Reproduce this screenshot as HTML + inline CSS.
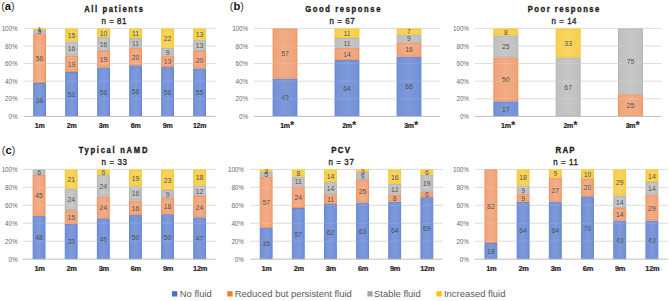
<!DOCTYPE html>
<html><head><meta charset="utf-8"><style>html,body{margin:0;padding:0;background:#fff;width:669px;height:301px;overflow:hidden;position:relative}</style></head>
<body>
<svg width="669" height="301" viewBox="0 0 669 301" style="position:absolute;left:0;top:0">
<defs>
<linearGradient id="gb" x1="0" x2="1" y1="0" y2="0"><stop offset="0" stop-color="#7290D7"/><stop offset="0.5" stop-color="#7D99DA"/><stop offset="1" stop-color="#7290D7"/></linearGradient>
<linearGradient id="go" x1="0" x2="1" y1="0" y2="0"><stop offset="0" stop-color="#F0A279"/><stop offset="0.5" stop-color="#F2AD86"/><stop offset="1" stop-color="#F0A279"/></linearGradient>
<linearGradient id="gg" x1="0" x2="1" y1="0" y2="0"><stop offset="0" stop-color="#BFBFBF"/><stop offset="0.5" stop-color="#C7C7C7"/><stop offset="1" stop-color="#BFBFBF"/></linearGradient>
<linearGradient id="gy" x1="0" x2="1" y1="0" y2="0"><stop offset="0" stop-color="#F7CF4E"/><stop offset="0.5" stop-color="#F8D560"/><stop offset="1" stop-color="#F7CF4E"/></linearGradient>
</defs>
<line x1="23.6" x2="215.6" y1="98.80" y2="98.80" stroke="#D9D9D9" stroke-width="1"/>
<line x1="23.6" x2="215.6" y1="81.20" y2="81.20" stroke="#D9D9D9" stroke-width="1"/>
<line x1="23.6" x2="215.6" y1="63.60" y2="63.60" stroke="#D9D9D9" stroke-width="1"/>
<line x1="23.6" x2="215.6" y1="46.00" y2="46.00" stroke="#D9D9D9" stroke-width="1"/>
<line x1="23.6" x2="215.6" y1="28.40" y2="28.40" stroke="#D9D9D9" stroke-width="1"/>
<g transform="translate(17.40,118.90) scale(0.9,1)"><text x="0" y="0" text-anchor="end" font-family='"Liberation Sans", sans-serif' font-size="7" letter-spacing="-0.1" fill="#6A6A6A">0%</text></g>
<g transform="translate(17.40,101.30) scale(0.9,1)"><text x="0" y="0" text-anchor="end" font-family='"Liberation Sans", sans-serif' font-size="7" letter-spacing="-0.1" fill="#6A6A6A">20%</text></g>
<g transform="translate(17.40,83.70) scale(0.9,1)"><text x="0" y="0" text-anchor="end" font-family='"Liberation Sans", sans-serif' font-size="7" letter-spacing="-0.1" fill="#6A6A6A">40%</text></g>
<g transform="translate(17.40,66.10) scale(0.9,1)"><text x="0" y="0" text-anchor="end" font-family='"Liberation Sans", sans-serif' font-size="7" letter-spacing="-0.1" fill="#6A6A6A">60%</text></g>
<g transform="translate(17.40,48.50) scale(0.9,1)"><text x="0" y="0" text-anchor="end" font-family='"Liberation Sans", sans-serif' font-size="7" letter-spacing="-0.1" fill="#6A6A6A">80%</text></g>
<g transform="translate(17.40,30.90) scale(0.9,1)"><text x="0" y="0" text-anchor="end" font-family='"Liberation Sans", sans-serif' font-size="7" letter-spacing="-0.1" fill="#6A6A6A">100%</text></g>
<rect x="33.70" y="83.46" width="11.80" height="32.44" fill="url(#gb)" stroke="#6286D4" stroke-width="1"/>
<rect x="33.70" y="34.18" width="11.80" height="48.28" fill="url(#go)" stroke="#EF925C" stroke-width="1"/>
<rect x="33.70" y="29.78" width="11.80" height="3.40" fill="url(#gg)" stroke="#B4B4B4" stroke-width="1"/>
<rect x="33.70" y="28.90" width="11.80" height="0.30" fill="url(#gy)" stroke="#F6C830" stroke-width="1"/>
<text x="39.60" y="102.63" text-anchor="middle" font-family='"Liberation Sans", sans-serif' font-size="6.8" letter-spacing="0" fill="#505050">38</text>
<text x="39.60" y="61.27" text-anchor="middle" font-family='"Liberation Sans", sans-serif' font-size="6.8" letter-spacing="0" fill="#505050">56</text>
<text x="39.60" y="34.43" text-anchor="middle" font-family='"Liberation Sans", sans-serif' font-size="6.8" letter-spacing="0" fill="#505050">5</text>
<text x="39.60" y="31.79" text-anchor="middle" font-family='"Liberation Sans", sans-serif' font-size="6.8" letter-spacing="0" fill="#505050">1</text>
<text x="39.60" y="128.00" text-anchor="middle" font-family='"Liberation Sans", sans-serif' font-weight="bold" font-size="7.0" letter-spacing="-0.3" fill="#1E1E1E" stroke="#1E1E1E" stroke-width="0.2">1m</text>
<rect x="65.70" y="72.46" width="11.80" height="43.44" fill="url(#gb)" stroke="#6286D4" stroke-width="1"/>
<rect x="65.70" y="55.91" width="11.80" height="15.55" fill="url(#go)" stroke="#EF925C" stroke-width="1"/>
<rect x="65.70" y="41.97" width="11.80" height="12.94" fill="url(#gg)" stroke="#B4B4B4" stroke-width="1"/>
<rect x="65.70" y="28.90" width="11.80" height="12.07" fill="url(#gy)" stroke="#F6C830" stroke-width="1"/>
<text x="71.60" y="97.13" text-anchor="middle" font-family='"Liberation Sans", sans-serif' font-size="6.8" letter-spacing="0" fill="#505050">51</text>
<text x="71.60" y="66.64" text-anchor="middle" font-family='"Liberation Sans", sans-serif' font-size="6.8" letter-spacing="0" fill="#505050">19</text>
<text x="71.60" y="51.39" text-anchor="middle" font-family='"Liberation Sans", sans-serif' font-size="6.8" letter-spacing="0" fill="#505050">16</text>
<text x="71.60" y="37.88" text-anchor="middle" font-family='"Liberation Sans", sans-serif' font-size="6.8" letter-spacing="0" fill="#505050">15</text>
<text x="71.60" y="128.00" text-anchor="middle" font-family='"Liberation Sans", sans-serif' font-weight="bold" font-size="7.0" letter-spacing="-0.3" fill="#1E1E1E" stroke="#1E1E1E" stroke-width="0.2">2m</text>
<rect x="97.70" y="68.11" width="11.80" height="47.79" fill="url(#gb)" stroke="#6286D4" stroke-width="1"/>
<rect x="97.70" y="51.55" width="11.80" height="15.55" fill="url(#go)" stroke="#EF925C" stroke-width="1"/>
<rect x="97.70" y="37.61" width="11.80" height="12.94" fill="url(#gg)" stroke="#B4B4B4" stroke-width="1"/>
<rect x="97.70" y="28.90" width="11.80" height="7.71" fill="url(#gy)" stroke="#F6C830" stroke-width="1"/>
<text x="103.60" y="94.95" text-anchor="middle" font-family='"Liberation Sans", sans-serif' font-size="6.8" letter-spacing="0" fill="#505050">56</text>
<text x="103.60" y="62.28" text-anchor="middle" font-family='"Liberation Sans", sans-serif' font-size="6.8" letter-spacing="0" fill="#505050">19</text>
<text x="103.60" y="47.03" text-anchor="middle" font-family='"Liberation Sans", sans-serif' font-size="6.8" letter-spacing="0" fill="#505050">16</text>
<text x="103.60" y="35.71" text-anchor="middle" font-family='"Liberation Sans", sans-serif' font-size="6.8" letter-spacing="0" fill="#505050">10</text>
<text x="103.60" y="128.00" text-anchor="middle" font-family='"Liberation Sans", sans-serif' font-weight="bold" font-size="7.0" letter-spacing="-0.3" fill="#1E1E1E" stroke="#1E1E1E" stroke-width="0.2">3m</text>
<rect x="129.70" y="65.86" width="11.80" height="50.04" fill="url(#gb)" stroke="#6286D4" stroke-width="1"/>
<rect x="129.70" y="48.26" width="11.80" height="16.60" fill="url(#go)" stroke="#EF925C" stroke-width="1"/>
<rect x="129.70" y="38.58" width="11.80" height="8.68" fill="url(#gg)" stroke="#B4B4B4" stroke-width="1"/>
<rect x="129.70" y="28.90" width="11.80" height="8.68" fill="url(#gy)" stroke="#F6C830" stroke-width="1"/>
<text x="135.60" y="93.83" text-anchor="middle" font-family='"Liberation Sans", sans-serif' font-size="6.8" letter-spacing="0" fill="#505050">58</text>
<text x="135.60" y="59.51" text-anchor="middle" font-family='"Liberation Sans", sans-serif' font-size="6.8" letter-spacing="0" fill="#505050">20</text>
<text x="135.60" y="45.87" text-anchor="middle" font-family='"Liberation Sans", sans-serif' font-size="6.8" letter-spacing="0" fill="#505050">11</text>
<text x="135.60" y="36.19" text-anchor="middle" font-family='"Liberation Sans", sans-serif' font-size="6.8" letter-spacing="0" fill="#505050">11</text>
<text x="135.60" y="128.00" text-anchor="middle" font-family='"Liberation Sans", sans-serif' font-weight="bold" font-size="7.0" letter-spacing="-0.3" fill="#1E1E1E" stroke="#1E1E1E" stroke-width="0.2">6m</text>
<rect x="161.70" y="67.62" width="11.80" height="48.28" fill="url(#gb)" stroke="#6286D4" stroke-width="1"/>
<rect x="161.70" y="56.18" width="11.80" height="10.44" fill="url(#go)" stroke="#EF925C" stroke-width="1"/>
<rect x="161.70" y="48.26" width="11.80" height="6.92" fill="url(#gg)" stroke="#B4B4B4" stroke-width="1"/>
<rect x="161.70" y="28.90" width="11.80" height="18.36" fill="url(#gy)" stroke="#F6C830" stroke-width="1"/>
<text x="167.60" y="94.71" text-anchor="middle" font-family='"Liberation Sans", sans-serif' font-size="6.8" letter-spacing="0" fill="#505050">56</text>
<text x="167.60" y="64.35" text-anchor="middle" font-family='"Liberation Sans", sans-serif' font-size="6.8" letter-spacing="0" fill="#505050">13</text>
<text x="167.60" y="54.67" text-anchor="middle" font-family='"Liberation Sans", sans-serif' font-size="6.8" letter-spacing="0" fill="#505050">9</text>
<text x="167.60" y="41.03" text-anchor="middle" font-family='"Liberation Sans", sans-serif' font-size="6.8" letter-spacing="0" fill="#505050">22</text>
<text x="167.60" y="128.00" text-anchor="middle" font-family='"Liberation Sans", sans-serif' font-weight="bold" font-size="7.0" letter-spacing="-0.3" fill="#1E1E1E" stroke="#1E1E1E" stroke-width="0.2">9m</text>
<rect x="193.70" y="68.98" width="11.80" height="46.92" fill="url(#gb)" stroke="#6286D4" stroke-width="1"/>
<rect x="193.70" y="51.55" width="11.80" height="16.43" fill="url(#go)" stroke="#EF925C" stroke-width="1"/>
<rect x="193.70" y="40.23" width="11.80" height="10.33" fill="url(#gg)" stroke="#B4B4B4" stroke-width="1"/>
<rect x="193.70" y="28.90" width="11.80" height="10.33" fill="url(#gy)" stroke="#F6C830" stroke-width="1"/>
<text x="199.60" y="95.39" text-anchor="middle" font-family='"Liberation Sans", sans-serif' font-size="6.8" letter-spacing="0" fill="#505050">55</text>
<text x="199.60" y="62.72" text-anchor="middle" font-family='"Liberation Sans", sans-serif' font-size="6.8" letter-spacing="0" fill="#505050">20</text>
<text x="199.60" y="48.34" text-anchor="middle" font-family='"Liberation Sans", sans-serif' font-size="6.8" letter-spacing="0" fill="#505050">13</text>
<text x="199.60" y="37.01" text-anchor="middle" font-family='"Liberation Sans", sans-serif' font-size="6.8" letter-spacing="0" fill="#505050">13</text>
<text x="199.60" y="128.00" text-anchor="middle" font-family='"Liberation Sans", sans-serif' font-weight="bold" font-size="7.0" letter-spacing="-0.3" fill="#1E1E1E" stroke="#1E1E1E" stroke-width="0.2">12m</text>
<line x1="23.6" x2="215.6" y1="98.80" y2="98.80" stroke="#FFFFFF" stroke-opacity="0.13" stroke-width="1"/>
<line x1="23.6" x2="215.6" y1="81.20" y2="81.20" stroke="#FFFFFF" stroke-opacity="0.13" stroke-width="1"/>
<line x1="23.6" x2="215.6" y1="63.60" y2="63.60" stroke="#FFFFFF" stroke-opacity="0.13" stroke-width="1"/>
<line x1="23.6" x2="215.6" y1="46.00" y2="46.00" stroke="#FFFFFF" stroke-opacity="0.13" stroke-width="1"/>
<line x1="23.6" x2="215.6" y1="28.40" y2="28.40" stroke="#FFFFFF" stroke-opacity="0.13" stroke-width="1"/>
<line x1="23.6" x2="215.6" y1="116.40" y2="116.40" stroke="#BFBFBF" stroke-width="1"/>
<g transform="translate(113.60,11.90) scale(0.92,1)"><text x="0" y="0" text-anchor="middle" font-family='"Liberation Sans", sans-serif' font-weight="bold" font-size="8.3" textLength="63.80" lengthAdjust="spacing" fill="#1A1A1A" stroke="#1A1A1A" stroke-width="0.32">All patients</text></g>
<g transform="translate(113.95,24.40) scale(0.9,1)"><text x="0" y="0" text-anchor="middle" font-family='"Liberation Sans", sans-serif' font-size="8.8" textLength="27.67" lengthAdjust="spacing" fill="#262626" stroke="#262626" stroke-width="0.35">n = 81</text></g>
<line x1="254" x2="440" y1="98.80" y2="98.80" stroke="#D9D9D9" stroke-width="1"/>
<line x1="254" x2="440" y1="81.20" y2="81.20" stroke="#D9D9D9" stroke-width="1"/>
<line x1="254" x2="440" y1="63.60" y2="63.60" stroke="#D9D9D9" stroke-width="1"/>
<line x1="254" x2="440" y1="46.00" y2="46.00" stroke="#D9D9D9" stroke-width="1"/>
<line x1="254" x2="440" y1="28.40" y2="28.40" stroke="#D9D9D9" stroke-width="1"/>
<g transform="translate(247.90,118.90) scale(0.9,1)"><text x="0" y="0" text-anchor="end" font-family='"Liberation Sans", sans-serif' font-size="7" letter-spacing="-0.1" fill="#6A6A6A">0%</text></g>
<g transform="translate(247.90,101.30) scale(0.9,1)"><text x="0" y="0" text-anchor="end" font-family='"Liberation Sans", sans-serif' font-size="7" letter-spacing="-0.1" fill="#6A6A6A">20%</text></g>
<g transform="translate(247.90,83.70) scale(0.9,1)"><text x="0" y="0" text-anchor="end" font-family='"Liberation Sans", sans-serif' font-size="7" letter-spacing="-0.1" fill="#6A6A6A">40%</text></g>
<g transform="translate(247.90,66.10) scale(0.9,1)"><text x="0" y="0" text-anchor="end" font-family='"Liberation Sans", sans-serif' font-size="7" letter-spacing="-0.1" fill="#6A6A6A">60%</text></g>
<g transform="translate(247.90,48.50) scale(0.9,1)"><text x="0" y="0" text-anchor="end" font-family='"Liberation Sans", sans-serif' font-size="7" letter-spacing="-0.1" fill="#6A6A6A">80%</text></g>
<g transform="translate(247.90,30.90) scale(0.9,1)"><text x="0" y="0" text-anchor="end" font-family='"Liberation Sans", sans-serif' font-size="7" letter-spacing="-0.1" fill="#6A6A6A">100%</text></g>
<rect x="273.10" y="79.06" width="23.80" height="36.84" fill="url(#gb)" stroke="#6286D4" stroke-width="1"/>
<rect x="273.10" y="28.90" width="23.80" height="49.16" fill="url(#go)" stroke="#EF925C" stroke-width="1"/>
<text x="285.00" y="100.43" text-anchor="middle" font-family='"Liberation Sans", sans-serif' font-size="6.8" letter-spacing="0" fill="#505050">43</text>
<text x="285.00" y="56.43" text-anchor="middle" font-family='"Liberation Sans", sans-serif' font-size="6.8" letter-spacing="0" fill="#505050">57</text>
<text x="285.00" y="128.00" text-anchor="middle" font-family='"Liberation Sans", sans-serif' font-weight="bold" font-size="7.0" letter-spacing="-0.3" fill="#1E1E1E" stroke="#1E1E1E" stroke-width="0.2">1m</text>
<text x="290.10" y="128.50" font-family='"Liberation Sans", sans-serif' font-weight="bold" font-size="11" fill="#262626">*</text>
<rect x="335.10" y="60.58" width="23.80" height="55.32" fill="url(#gb)" stroke="#6286D4" stroke-width="1"/>
<rect x="335.10" y="48.26" width="23.80" height="11.32" fill="url(#go)" stroke="#EF925C" stroke-width="1"/>
<rect x="335.10" y="38.58" width="23.80" height="8.68" fill="url(#gg)" stroke="#B4B4B4" stroke-width="1"/>
<rect x="335.10" y="28.90" width="23.80" height="8.68" fill="url(#gy)" stroke="#F6C830" stroke-width="1"/>
<text x="347.00" y="91.19" text-anchor="middle" font-family='"Liberation Sans", sans-serif' font-size="6.8" letter-spacing="0" fill="#505050">64</text>
<text x="347.00" y="56.87" text-anchor="middle" font-family='"Liberation Sans", sans-serif' font-size="6.8" letter-spacing="0" fill="#505050">14</text>
<text x="347.00" y="45.87" text-anchor="middle" font-family='"Liberation Sans", sans-serif' font-size="6.8" letter-spacing="0" fill="#505050">11</text>
<text x="347.00" y="36.19" text-anchor="middle" font-family='"Liberation Sans", sans-serif' font-size="6.8" letter-spacing="0" fill="#505050">11</text>
<text x="347.00" y="128.00" text-anchor="middle" font-family='"Liberation Sans", sans-serif' font-weight="bold" font-size="7.0" letter-spacing="-0.3" fill="#1E1E1E" stroke="#1E1E1E" stroke-width="0.2">2m</text>
<text x="352.10" y="128.50" font-family='"Liberation Sans", sans-serif' font-weight="bold" font-size="11" fill="#262626">*</text>
<rect x="397.10" y="57.06" width="23.80" height="58.84" fill="url(#gb)" stroke="#6286D4" stroke-width="1"/>
<rect x="397.10" y="42.98" width="23.80" height="13.08" fill="url(#go)" stroke="#EF925C" stroke-width="1"/>
<rect x="397.10" y="35.06" width="23.80" height="6.92" fill="url(#gg)" stroke="#B4B4B4" stroke-width="1"/>
<rect x="397.10" y="28.90" width="23.80" height="5.16" fill="url(#gy)" stroke="#F6C830" stroke-width="1"/>
<text x="409.00" y="89.43" text-anchor="middle" font-family='"Liberation Sans", sans-serif' font-size="6.8" letter-spacing="0" fill="#505050">68</text>
<text x="409.00" y="52.47" text-anchor="middle" font-family='"Liberation Sans", sans-serif' font-size="6.8" letter-spacing="0" fill="#505050">16</text>
<text x="409.00" y="41.47" text-anchor="middle" font-family='"Liberation Sans", sans-serif' font-size="6.8" letter-spacing="0" fill="#505050">9</text>
<text x="409.00" y="34.43" text-anchor="middle" font-family='"Liberation Sans", sans-serif' font-size="6.8" letter-spacing="0" fill="#505050">7</text>
<text x="409.00" y="128.00" text-anchor="middle" font-family='"Liberation Sans", sans-serif' font-weight="bold" font-size="7.0" letter-spacing="-0.3" fill="#1E1E1E" stroke="#1E1E1E" stroke-width="0.2">3m</text>
<text x="414.10" y="128.50" font-family='"Liberation Sans", sans-serif' font-weight="bold" font-size="11" fill="#262626">*</text>
<line x1="254" x2="440" y1="98.80" y2="98.80" stroke="#FFFFFF" stroke-opacity="0.13" stroke-width="1"/>
<line x1="254" x2="440" y1="81.20" y2="81.20" stroke="#FFFFFF" stroke-opacity="0.13" stroke-width="1"/>
<line x1="254" x2="440" y1="63.60" y2="63.60" stroke="#FFFFFF" stroke-opacity="0.13" stroke-width="1"/>
<line x1="254" x2="440" y1="46.00" y2="46.00" stroke="#FFFFFF" stroke-opacity="0.13" stroke-width="1"/>
<line x1="254" x2="440" y1="28.40" y2="28.40" stroke="#FFFFFF" stroke-opacity="0.13" stroke-width="1"/>
<line x1="254" x2="440" y1="116.40" y2="116.40" stroke="#BFBFBF" stroke-width="1"/>
<g transform="translate(342.85,11.90) scale(0.92,1)"><text x="0" y="0" text-anchor="middle" font-family='"Liberation Sans", sans-serif' font-weight="bold" font-size="8.3" textLength="81.74" lengthAdjust="spacing" fill="#1A1A1A" stroke="#1A1A1A" stroke-width="0.32">Good response</text></g>
<g transform="translate(342.15,24.40) scale(0.9,1)"><text x="0" y="0" text-anchor="middle" font-family='"Liberation Sans", sans-serif' font-size="8.8" textLength="27.89" lengthAdjust="spacing" fill="#262626" stroke="#262626" stroke-width="0.35">n = 67</text></g>
<line x1="474.7" x2="661.6" y1="98.80" y2="98.80" stroke="#D9D9D9" stroke-width="1"/>
<line x1="474.7" x2="661.6" y1="81.20" y2="81.20" stroke="#D9D9D9" stroke-width="1"/>
<line x1="474.7" x2="661.6" y1="63.60" y2="63.60" stroke="#D9D9D9" stroke-width="1"/>
<line x1="474.7" x2="661.6" y1="46.00" y2="46.00" stroke="#D9D9D9" stroke-width="1"/>
<line x1="474.7" x2="661.6" y1="28.40" y2="28.40" stroke="#D9D9D9" stroke-width="1"/>
<g transform="translate(468.80,118.90) scale(0.9,1)"><text x="0" y="0" text-anchor="end" font-family='"Liberation Sans", sans-serif' font-size="7" letter-spacing="-0.1" fill="#6A6A6A">0%</text></g>
<g transform="translate(468.80,101.30) scale(0.9,1)"><text x="0" y="0" text-anchor="end" font-family='"Liberation Sans", sans-serif' font-size="7" letter-spacing="-0.1" fill="#6A6A6A">20%</text></g>
<g transform="translate(468.80,83.70) scale(0.9,1)"><text x="0" y="0" text-anchor="end" font-family='"Liberation Sans", sans-serif' font-size="7" letter-spacing="-0.1" fill="#6A6A6A">40%</text></g>
<g transform="translate(468.80,66.10) scale(0.9,1)"><text x="0" y="0" text-anchor="end" font-family='"Liberation Sans", sans-serif' font-size="7" letter-spacing="-0.1" fill="#6A6A6A">60%</text></g>
<g transform="translate(468.80,48.50) scale(0.9,1)"><text x="0" y="0" text-anchor="end" font-family='"Liberation Sans", sans-serif' font-size="7" letter-spacing="-0.1" fill="#6A6A6A">80%</text></g>
<g transform="translate(468.80,30.90) scale(0.9,1)"><text x="0" y="0" text-anchor="end" font-family='"Liberation Sans", sans-serif' font-size="7" letter-spacing="-0.1" fill="#6A6A6A">100%</text></g>
<rect x="493.89" y="101.94" width="23.92" height="13.96" fill="url(#gb)" stroke="#6286D4" stroke-width="1"/>
<rect x="493.89" y="57.94" width="23.92" height="43.00" fill="url(#go)" stroke="#EF925C" stroke-width="1"/>
<rect x="493.89" y="35.94" width="23.92" height="21.00" fill="url(#gg)" stroke="#B4B4B4" stroke-width="1"/>
<rect x="493.89" y="28.90" width="23.92" height="6.04" fill="url(#gy)" stroke="#F6C830" stroke-width="1"/>
<text x="505.85" y="111.87" text-anchor="middle" font-family='"Liberation Sans", sans-serif' font-size="6.8" letter-spacing="0" fill="#505050">17</text>
<text x="505.85" y="82.39" text-anchor="middle" font-family='"Liberation Sans", sans-serif' font-size="6.8" letter-spacing="0" fill="#505050">50</text>
<text x="505.85" y="49.39" text-anchor="middle" font-family='"Liberation Sans", sans-serif' font-size="6.8" letter-spacing="0" fill="#505050">25</text>
<text x="505.85" y="34.87" text-anchor="middle" font-family='"Liberation Sans", sans-serif' font-size="6.8" letter-spacing="0" fill="#505050">8</text>
<text x="505.85" y="128.00" text-anchor="middle" font-family='"Liberation Sans", sans-serif' font-weight="bold" font-size="7.0" letter-spacing="-0.3" fill="#1E1E1E" stroke="#1E1E1E" stroke-width="0.2">1m</text>
<text x="510.95" y="128.50" font-family='"Liberation Sans", sans-serif' font-weight="bold" font-size="11" fill="#262626">*</text>
<rect x="556.19" y="57.94" width="23.92" height="57.96" fill="url(#gg)" stroke="#B4B4B4" stroke-width="1"/>
<rect x="556.19" y="28.90" width="23.92" height="28.04" fill="url(#gy)" stroke="#F6C830" stroke-width="1"/>
<text x="568.15" y="89.87" text-anchor="middle" font-family='"Liberation Sans", sans-serif' font-size="6.8" letter-spacing="0" fill="#505050">67</text>
<text x="568.15" y="45.87" text-anchor="middle" font-family='"Liberation Sans", sans-serif' font-size="6.8" letter-spacing="0" fill="#505050">33</text>
<text x="568.15" y="128.00" text-anchor="middle" font-family='"Liberation Sans", sans-serif' font-weight="bold" font-size="7.0" letter-spacing="-0.3" fill="#1E1E1E" stroke="#1E1E1E" stroke-width="0.2">2m</text>
<text x="573.25" y="128.50" font-family='"Liberation Sans", sans-serif' font-weight="bold" font-size="11" fill="#262626">*</text>
<rect x="618.49" y="94.90" width="23.92" height="21.00" fill="url(#go)" stroke="#EF925C" stroke-width="1"/>
<rect x="618.49" y="28.90" width="23.92" height="65.00" fill="url(#gg)" stroke="#B4B4B4" stroke-width="1"/>
<text x="630.45" y="108.35" text-anchor="middle" font-family='"Liberation Sans", sans-serif' font-size="6.8" letter-spacing="0" fill="#505050">25</text>
<text x="630.45" y="64.35" text-anchor="middle" font-family='"Liberation Sans", sans-serif' font-size="6.8" letter-spacing="0" fill="#505050">75</text>
<text x="630.45" y="128.00" text-anchor="middle" font-family='"Liberation Sans", sans-serif' font-weight="bold" font-size="7.0" letter-spacing="-0.3" fill="#1E1E1E" stroke="#1E1E1E" stroke-width="0.2">3m</text>
<text x="635.55" y="128.50" font-family='"Liberation Sans", sans-serif' font-weight="bold" font-size="11" fill="#262626">*</text>
<line x1="474.7" x2="661.6" y1="98.80" y2="98.80" stroke="#FFFFFF" stroke-opacity="0.13" stroke-width="1"/>
<line x1="474.7" x2="661.6" y1="81.20" y2="81.20" stroke="#FFFFFF" stroke-opacity="0.13" stroke-width="1"/>
<line x1="474.7" x2="661.6" y1="63.60" y2="63.60" stroke="#FFFFFF" stroke-opacity="0.13" stroke-width="1"/>
<line x1="474.7" x2="661.6" y1="46.00" y2="46.00" stroke="#FFFFFF" stroke-opacity="0.13" stroke-width="1"/>
<line x1="474.7" x2="661.6" y1="28.40" y2="28.40" stroke="#FFFFFF" stroke-opacity="0.13" stroke-width="1"/>
<line x1="474.7" x2="661.6" y1="116.40" y2="116.40" stroke="#BFBFBF" stroke-width="1"/>
<g transform="translate(563.55,11.90) scale(0.92,1)"><text x="0" y="0" text-anchor="middle" font-family='"Liberation Sans", sans-serif' font-weight="bold" font-size="8.3" textLength="77.83" lengthAdjust="spacing" fill="#1A1A1A" stroke="#1A1A1A" stroke-width="0.32">Poor response</text></g>
<g transform="translate(564.00,24.40) scale(0.9,1)"><text x="0" y="0" text-anchor="middle" font-family='"Liberation Sans", sans-serif' font-size="8.8" textLength="27.78" lengthAdjust="spacing" fill="#262626" stroke="#262626" stroke-width="0.35">n = 14</text></g>
<line x1="23.0" x2="215.7" y1="241.24" y2="241.24" stroke="#D9D9D9" stroke-width="1"/>
<line x1="23.0" x2="215.7" y1="223.28" y2="223.28" stroke="#D9D9D9" stroke-width="1"/>
<line x1="23.0" x2="215.7" y1="205.32" y2="205.32" stroke="#D9D9D9" stroke-width="1"/>
<line x1="23.0" x2="215.7" y1="187.36" y2="187.36" stroke="#D9D9D9" stroke-width="1"/>
<line x1="23.0" x2="215.7" y1="169.40" y2="169.40" stroke="#D9D9D9" stroke-width="1"/>
<g transform="translate(17.40,261.70) scale(0.9,1)"><text x="0" y="0" text-anchor="end" font-family='"Liberation Sans", sans-serif' font-size="7" letter-spacing="-0.1" fill="#6A6A6A">0%</text></g>
<g transform="translate(17.40,243.74) scale(0.9,1)"><text x="0" y="0" text-anchor="end" font-family='"Liberation Sans", sans-serif' font-size="7" letter-spacing="-0.1" fill="#6A6A6A">20%</text></g>
<g transform="translate(17.40,225.78) scale(0.9,1)"><text x="0" y="0" text-anchor="end" font-family='"Liberation Sans", sans-serif' font-size="7" letter-spacing="-0.1" fill="#6A6A6A">40%</text></g>
<g transform="translate(17.40,207.82) scale(0.9,1)"><text x="0" y="0" text-anchor="end" font-family='"Liberation Sans", sans-serif' font-size="7" letter-spacing="-0.1" fill="#6A6A6A">60%</text></g>
<g transform="translate(17.40,189.86) scale(0.9,1)"><text x="0" y="0" text-anchor="end" font-family='"Liberation Sans", sans-serif' font-size="7" letter-spacing="-0.1" fill="#6A6A6A">80%</text></g>
<g transform="translate(17.40,171.90) scale(0.9,1)"><text x="0" y="0" text-anchor="end" font-family='"Liberation Sans", sans-serif' font-size="7" letter-spacing="-0.1" fill="#6A6A6A">100%</text></g>
<rect x="33.14" y="216.16" width="11.85" height="42.54" fill="url(#gb)" stroke="#6286D4" stroke-width="1"/>
<rect x="33.14" y="175.34" width="11.85" height="39.82" fill="url(#go)" stroke="#EF925C" stroke-width="1"/>
<rect x="33.14" y="169.90" width="11.85" height="4.44" fill="url(#gg)" stroke="#B4B4B4" stroke-width="1"/>
<text x="39.06" y="240.38" text-anchor="middle" font-family='"Liberation Sans", sans-serif' font-size="6.8" letter-spacing="0" fill="#505050">48</text>
<text x="39.06" y="198.20" text-anchor="middle" font-family='"Liberation Sans", sans-serif' font-size="6.8" letter-spacing="0" fill="#505050">45</text>
<text x="39.06" y="175.07" text-anchor="middle" font-family='"Liberation Sans", sans-serif' font-size="6.8" letter-spacing="0" fill="#505050">6</text>
<text x="39.46" y="271.00" text-anchor="middle" font-family='"Liberation Sans", sans-serif' font-weight="bold" font-size="7.4" letter-spacing="-0.3" fill="#1E1E1E" stroke="#1E1E1E" stroke-width="0.2">1m</text>
<rect x="65.25" y="224.32" width="11.85" height="34.38" fill="url(#gb)" stroke="#6286D4" stroke-width="1"/>
<rect x="65.25" y="210.72" width="11.85" height="12.61" fill="url(#go)" stroke="#EF925C" stroke-width="1"/>
<rect x="65.25" y="188.95" width="11.85" height="20.77" fill="url(#gg)" stroke="#B4B4B4" stroke-width="1"/>
<rect x="65.25" y="169.90" width="11.85" height="18.05" fill="url(#gy)" stroke="#F6C830" stroke-width="1"/>
<text x="71.17" y="244.46" text-anchor="middle" font-family='"Liberation Sans", sans-serif' font-size="6.8" letter-spacing="0" fill="#505050">39</text>
<text x="71.17" y="219.97" text-anchor="middle" font-family='"Liberation Sans", sans-serif' font-size="6.8" letter-spacing="0" fill="#505050">15</text>
<text x="71.17" y="202.28" text-anchor="middle" font-family='"Liberation Sans", sans-serif' font-size="6.8" letter-spacing="0" fill="#505050">24</text>
<text x="71.17" y="181.87" text-anchor="middle" font-family='"Liberation Sans", sans-serif' font-size="6.8" letter-spacing="0" fill="#505050">21</text>
<text x="71.58" y="271.00" text-anchor="middle" font-family='"Liberation Sans", sans-serif' font-weight="bold" font-size="7.4" letter-spacing="-0.3" fill="#1E1E1E" stroke="#1E1E1E" stroke-width="0.2">2m</text>
<rect x="97.37" y="218.88" width="11.85" height="39.82" fill="url(#gb)" stroke="#6286D4" stroke-width="1"/>
<rect x="97.37" y="197.11" width="11.85" height="20.77" fill="url(#go)" stroke="#EF925C" stroke-width="1"/>
<rect x="97.37" y="175.34" width="11.85" height="20.77" fill="url(#gg)" stroke="#B4B4B4" stroke-width="1"/>
<rect x="97.37" y="169.90" width="11.85" height="4.44" fill="url(#gy)" stroke="#F6C830" stroke-width="1"/>
<text x="103.29" y="241.74" text-anchor="middle" font-family='"Liberation Sans", sans-serif' font-size="6.8" letter-spacing="0" fill="#505050">45</text>
<text x="103.29" y="210.45" text-anchor="middle" font-family='"Liberation Sans", sans-serif' font-size="6.8" letter-spacing="0" fill="#505050">24</text>
<text x="103.29" y="188.68" text-anchor="middle" font-family='"Liberation Sans", sans-serif' font-size="6.8" letter-spacing="0" fill="#505050">24</text>
<text x="103.29" y="175.07" text-anchor="middle" font-family='"Liberation Sans", sans-serif' font-size="6.8" letter-spacing="0" fill="#505050">6</text>
<text x="103.69" y="271.00" text-anchor="middle" font-family='"Liberation Sans", sans-serif' font-weight="bold" font-size="7.4" letter-spacing="-0.3" fill="#1E1E1E" stroke="#1E1E1E" stroke-width="0.2">3m</text>
<rect x="129.48" y="215.24" width="11.85" height="43.46" fill="url(#gb)" stroke="#6286D4" stroke-width="1"/>
<rect x="129.48" y="201.02" width="11.85" height="13.23" fill="url(#go)" stroke="#EF925C" stroke-width="1"/>
<rect x="129.48" y="186.79" width="11.85" height="13.23" fill="url(#gg)" stroke="#B4B4B4" stroke-width="1"/>
<rect x="129.48" y="169.90" width="11.85" height="15.89" fill="url(#gy)" stroke="#F6C830" stroke-width="1"/>
<text x="135.41" y="239.92" text-anchor="middle" font-family='"Liberation Sans", sans-serif' font-size="6.8" letter-spacing="0" fill="#505050">50</text>
<text x="135.41" y="210.58" text-anchor="middle" font-family='"Liberation Sans", sans-serif' font-size="6.8" letter-spacing="0" fill="#505050">16</text>
<text x="135.41" y="196.36" text-anchor="middle" font-family='"Liberation Sans", sans-serif' font-size="6.8" letter-spacing="0" fill="#505050">16</text>
<text x="135.41" y="180.80" text-anchor="middle" font-family='"Liberation Sans", sans-serif' font-size="6.8" letter-spacing="0" fill="#505050">19</text>
<text x="135.81" y="271.00" text-anchor="middle" font-family='"Liberation Sans", sans-serif' font-weight="bold" font-size="7.4" letter-spacing="-0.3" fill="#1E1E1E" stroke="#1E1E1E" stroke-width="0.2">6m</text>
<rect x="161.60" y="214.80" width="11.85" height="43.90" fill="url(#gb)" stroke="#6286D4" stroke-width="1"/>
<rect x="161.60" y="198.64" width="11.85" height="15.16" fill="url(#go)" stroke="#EF925C" stroke-width="1"/>
<rect x="161.60" y="190.55" width="11.85" height="7.08" fill="url(#gg)" stroke="#B4B4B4" stroke-width="1"/>
<rect x="161.60" y="169.90" width="11.85" height="19.65" fill="url(#gy)" stroke="#F6C830" stroke-width="1"/>
<text x="167.53" y="239.70" text-anchor="middle" font-family='"Liberation Sans", sans-serif' font-size="6.8" letter-spacing="0" fill="#505050">50</text>
<text x="167.53" y="209.17" text-anchor="middle" font-family='"Liberation Sans", sans-serif' font-size="6.8" letter-spacing="0" fill="#505050">18</text>
<text x="167.53" y="197.05" text-anchor="middle" font-family='"Liberation Sans", sans-serif' font-size="6.8" letter-spacing="0" fill="#505050">9</text>
<text x="167.53" y="182.68" text-anchor="middle" font-family='"Liberation Sans", sans-serif' font-size="6.8" letter-spacing="0" fill="#505050">23</text>
<text x="167.93" y="271.00" text-anchor="middle" font-family='"Liberation Sans", sans-serif' font-weight="bold" font-size="7.4" letter-spacing="-0.3" fill="#1E1E1E" stroke="#1E1E1E" stroke-width="0.2">9m</text>
<rect x="193.72" y="217.91" width="11.85" height="40.79" fill="url(#gb)" stroke="#6286D4" stroke-width="1"/>
<rect x="193.72" y="196.57" width="11.85" height="20.34" fill="url(#go)" stroke="#EF925C" stroke-width="1"/>
<rect x="193.72" y="185.90" width="11.85" height="9.67" fill="url(#gg)" stroke="#B4B4B4" stroke-width="1"/>
<rect x="193.72" y="169.90" width="11.85" height="15.00" fill="url(#gy)" stroke="#F6C830" stroke-width="1"/>
<text x="199.64" y="241.26" text-anchor="middle" font-family='"Liberation Sans", sans-serif' font-size="6.8" letter-spacing="0" fill="#505050">47</text>
<text x="199.64" y="209.69" text-anchor="middle" font-family='"Liberation Sans", sans-serif' font-size="6.8" letter-spacing="0" fill="#505050">24</text>
<text x="199.64" y="193.69" text-anchor="middle" font-family='"Liberation Sans", sans-serif' font-size="6.8" letter-spacing="0" fill="#505050">12</text>
<text x="199.64" y="180.35" text-anchor="middle" font-family='"Liberation Sans", sans-serif' font-size="6.8" letter-spacing="0" fill="#505050">18</text>
<text x="200.04" y="271.00" text-anchor="middle" font-family='"Liberation Sans", sans-serif' font-weight="bold" font-size="7.4" letter-spacing="-0.3" fill="#1E1E1E" stroke="#1E1E1E" stroke-width="0.2">12m</text>
<line x1="23.0" x2="215.7" y1="241.24" y2="241.24" stroke="#FFFFFF" stroke-opacity="0.13" stroke-width="1"/>
<line x1="23.0" x2="215.7" y1="223.28" y2="223.28" stroke="#FFFFFF" stroke-opacity="0.13" stroke-width="1"/>
<line x1="23.0" x2="215.7" y1="205.32" y2="205.32" stroke="#FFFFFF" stroke-opacity="0.13" stroke-width="1"/>
<line x1="23.0" x2="215.7" y1="187.36" y2="187.36" stroke="#FFFFFF" stroke-opacity="0.13" stroke-width="1"/>
<line x1="23.0" x2="215.7" y1="169.40" y2="169.40" stroke="#FFFFFF" stroke-opacity="0.13" stroke-width="1"/>
<line x1="23.0" x2="215.7" y1="259.20" y2="259.20" stroke="#BFBFBF" stroke-width="1"/>
<g transform="translate(113.05,152.90) scale(0.92,1)"><text x="0" y="0" text-anchor="middle" font-family='"Liberation Sans", sans-serif' font-weight="bold" font-size="8.3" textLength="74.78" lengthAdjust="spacing" fill="#1A1A1A" stroke="#1A1A1A" stroke-width="0.32">Typical nAMD</text></g>
<g transform="translate(114.20,165.40) scale(0.9,1)"><text x="0" y="0" text-anchor="middle" font-family='"Liberation Sans", sans-serif' font-size="8.8" textLength="28.22" lengthAdjust="spacing" fill="#262626" stroke="#262626" stroke-width="0.35">n = 33</text></g>
<line x1="250.1" x2="442.9" y1="241.24" y2="241.24" stroke="#D9D9D9" stroke-width="1"/>
<line x1="250.1" x2="442.9" y1="223.28" y2="223.28" stroke="#D9D9D9" stroke-width="1"/>
<line x1="250.1" x2="442.9" y1="205.32" y2="205.32" stroke="#D9D9D9" stroke-width="1"/>
<line x1="250.1" x2="442.9" y1="187.36" y2="187.36" stroke="#D9D9D9" stroke-width="1"/>
<line x1="250.1" x2="442.9" y1="169.40" y2="169.40" stroke="#D9D9D9" stroke-width="1"/>
<g transform="translate(243.70,261.70) scale(0.9,1)"><text x="0" y="0" text-anchor="end" font-family='"Liberation Sans", sans-serif' font-size="7" letter-spacing="-0.1" fill="#6A6A6A">0%</text></g>
<g transform="translate(243.70,243.74) scale(0.9,1)"><text x="0" y="0" text-anchor="end" font-family='"Liberation Sans", sans-serif' font-size="7" letter-spacing="-0.1" fill="#6A6A6A">20%</text></g>
<g transform="translate(243.70,225.78) scale(0.9,1)"><text x="0" y="0" text-anchor="end" font-family='"Liberation Sans", sans-serif' font-size="7" letter-spacing="-0.1" fill="#6A6A6A">40%</text></g>
<g transform="translate(243.70,207.82) scale(0.9,1)"><text x="0" y="0" text-anchor="end" font-family='"Liberation Sans", sans-serif' font-size="7" letter-spacing="-0.1" fill="#6A6A6A">60%</text></g>
<g transform="translate(243.70,189.86) scale(0.9,1)"><text x="0" y="0" text-anchor="end" font-family='"Liberation Sans", sans-serif' font-size="7" letter-spacing="-0.1" fill="#6A6A6A">80%</text></g>
<g transform="translate(243.70,171.90) scale(0.9,1)"><text x="0" y="0" text-anchor="end" font-family='"Liberation Sans", sans-serif' font-size="7" letter-spacing="-0.1" fill="#6A6A6A">100%</text></g>
<rect x="260.24" y="228.27" width="11.85" height="30.43" fill="url(#gb)" stroke="#6286D4" stroke-width="1"/>
<rect x="260.24" y="177.08" width="11.85" height="50.19" fill="url(#go)" stroke="#EF925C" stroke-width="1"/>
<rect x="260.24" y="172.59" width="11.85" height="3.49" fill="url(#gg)" stroke="#B4B4B4" stroke-width="1"/>
<rect x="260.24" y="169.90" width="11.85" height="1.69" fill="url(#gy)" stroke="#F6C830" stroke-width="1"/>
<text x="266.17" y="246.43" text-anchor="middle" font-family='"Liberation Sans", sans-serif' font-size="6.8" letter-spacing="0" fill="#505050">35</text>
<text x="266.17" y="205.13" text-anchor="middle" font-family='"Liberation Sans", sans-serif' font-size="6.8" letter-spacing="0" fill="#505050">57</text>
<text x="266.17" y="177.29" text-anchor="middle" font-family='"Liberation Sans", sans-serif' font-size="6.8" letter-spacing="0" fill="#505050">5</text>
<text x="266.17" y="173.70" text-anchor="middle" font-family='"Liberation Sans", sans-serif' font-size="6.8" letter-spacing="0" fill="#505050">3</text>
<text x="266.57" y="271.00" text-anchor="middle" font-family='"Liberation Sans", sans-serif' font-weight="bold" font-size="7.4" letter-spacing="-0.3" fill="#1E1E1E" stroke="#1E1E1E" stroke-width="0.2">1m</text>
<rect x="292.37" y="208.51" width="11.85" height="50.19" fill="url(#gb)" stroke="#6286D4" stroke-width="1"/>
<rect x="292.37" y="186.96" width="11.85" height="20.55" fill="url(#go)" stroke="#EF925C" stroke-width="1"/>
<rect x="292.37" y="177.08" width="11.85" height="8.88" fill="url(#gg)" stroke="#B4B4B4" stroke-width="1"/>
<rect x="292.37" y="169.90" width="11.85" height="6.18" fill="url(#gy)" stroke="#F6C830" stroke-width="1"/>
<text x="298.30" y="236.56" text-anchor="middle" font-family='"Liberation Sans", sans-serif' font-size="6.8" letter-spacing="0" fill="#505050">57</text>
<text x="298.30" y="200.19" text-anchor="middle" font-family='"Liberation Sans", sans-serif' font-size="6.8" letter-spacing="0" fill="#505050">24</text>
<text x="298.30" y="184.47" text-anchor="middle" font-family='"Liberation Sans", sans-serif' font-size="6.8" letter-spacing="0" fill="#505050">11</text>
<text x="298.30" y="175.94" text-anchor="middle" font-family='"Liberation Sans", sans-serif' font-size="6.8" letter-spacing="0" fill="#505050">8</text>
<text x="298.70" y="271.00" text-anchor="middle" font-family='"Liberation Sans", sans-serif' font-weight="bold" font-size="7.4" letter-spacing="-0.3" fill="#1E1E1E" stroke="#1E1E1E" stroke-width="0.2">2m</text>
<rect x="324.51" y="204.58" width="11.85" height="54.12" fill="url(#gb)" stroke="#6286D4" stroke-width="1"/>
<rect x="324.51" y="194.80" width="11.85" height="8.78" fill="url(#go)" stroke="#EF925C" stroke-width="1"/>
<rect x="324.51" y="182.35" width="11.85" height="11.45" fill="url(#gg)" stroke="#B4B4B4" stroke-width="1"/>
<rect x="324.51" y="169.90" width="11.85" height="11.45" fill="url(#gy)" stroke="#F6C830" stroke-width="1"/>
<text x="330.43" y="234.59" text-anchor="middle" font-family='"Liberation Sans", sans-serif' font-size="6.8" letter-spacing="0" fill="#505050">62</text>
<text x="330.43" y="202.14" text-anchor="middle" font-family='"Liberation Sans", sans-serif' font-size="6.8" letter-spacing="0" fill="#505050">11</text>
<text x="330.43" y="191.02" text-anchor="middle" font-family='"Liberation Sans", sans-serif' font-size="6.8" letter-spacing="0" fill="#505050">14</text>
<text x="330.43" y="178.57" text-anchor="middle" font-family='"Liberation Sans", sans-serif' font-size="6.8" letter-spacing="0" fill="#505050">14</text>
<text x="330.83" y="271.00" text-anchor="middle" font-family='"Liberation Sans", sans-serif' font-weight="bold" font-size="7.4" letter-spacing="-0.3" fill="#1E1E1E" stroke="#1E1E1E" stroke-width="0.2">3m</text>
<rect x="356.64" y="203.13" width="11.85" height="55.57" fill="url(#gb)" stroke="#6286D4" stroke-width="1"/>
<rect x="356.64" y="180.68" width="11.85" height="21.45" fill="url(#go)" stroke="#EF925C" stroke-width="1"/>
<rect x="356.64" y="172.59" width="11.85" height="7.08" fill="url(#gg)" stroke="#B4B4B4" stroke-width="1"/>
<rect x="356.64" y="169.90" width="11.85" height="1.69" fill="url(#gy)" stroke="#F6C830" stroke-width="1"/>
<text x="362.57" y="233.86" text-anchor="middle" font-family='"Liberation Sans", sans-serif' font-size="6.8" letter-spacing="0" fill="#505050">63</text>
<text x="362.57" y="194.35" text-anchor="middle" font-family='"Liberation Sans", sans-serif' font-size="6.8" letter-spacing="0" fill="#505050">25</text>
<text x="362.57" y="179.09" text-anchor="middle" font-family='"Liberation Sans", sans-serif' font-size="6.8" letter-spacing="0" fill="#505050">9</text>
<text x="362.57" y="173.70" text-anchor="middle" font-family='"Liberation Sans", sans-serif' font-size="6.8" letter-spacing="0" fill="#505050">3</text>
<text x="362.97" y="271.00" text-anchor="middle" font-family='"Liberation Sans", sans-serif' font-weight="bold" font-size="7.4" letter-spacing="-0.3" fill="#1E1E1E" stroke="#1E1E1E" stroke-width="0.2">6m</text>
<rect x="388.77" y="202.23" width="11.85" height="56.47" fill="url(#gb)" stroke="#6286D4" stroke-width="1"/>
<rect x="388.77" y="195.04" width="11.85" height="6.18" fill="url(#go)" stroke="#EF925C" stroke-width="1"/>
<rect x="388.77" y="184.27" width="11.85" height="9.78" fill="url(#gg)" stroke="#B4B4B4" stroke-width="1"/>
<rect x="388.77" y="169.90" width="11.85" height="13.37" fill="url(#gy)" stroke="#F6C830" stroke-width="1"/>
<text x="394.70" y="233.41" text-anchor="middle" font-family='"Liberation Sans", sans-serif' font-size="6.8" letter-spacing="0" fill="#505050">64</text>
<text x="394.70" y="201.09" text-anchor="middle" font-family='"Liberation Sans", sans-serif' font-size="6.8" letter-spacing="0" fill="#505050">8</text>
<text x="394.70" y="192.11" text-anchor="middle" font-family='"Liberation Sans", sans-serif' font-size="6.8" letter-spacing="0" fill="#505050">12</text>
<text x="394.70" y="179.53" text-anchor="middle" font-family='"Liberation Sans", sans-serif' font-size="6.8" letter-spacing="0" fill="#505050">16</text>
<text x="395.10" y="271.00" text-anchor="middle" font-family='"Liberation Sans", sans-serif' font-weight="bold" font-size="7.4" letter-spacing="-0.3" fill="#1E1E1E" stroke="#1E1E1E" stroke-width="0.2">9m</text>
<rect x="420.91" y="197.74" width="11.85" height="60.96" fill="url(#gb)" stroke="#6286D4" stroke-width="1"/>
<rect x="420.91" y="192.35" width="11.85" height="4.39" fill="url(#go)" stroke="#EF925C" stroke-width="1"/>
<rect x="420.91" y="175.29" width="11.85" height="16.06" fill="url(#gg)" stroke="#B4B4B4" stroke-width="1"/>
<rect x="420.91" y="169.90" width="11.85" height="4.39" fill="url(#gy)" stroke="#F6C830" stroke-width="1"/>
<text x="426.83" y="231.17" text-anchor="middle" font-family='"Liberation Sans", sans-serif' font-size="6.8" letter-spacing="0" fill="#505050">69</text>
<text x="426.83" y="197.49" text-anchor="middle" font-family='"Liberation Sans", sans-serif' font-size="6.8" letter-spacing="0" fill="#505050">6</text>
<text x="426.83" y="186.27" text-anchor="middle" font-family='"Liberation Sans", sans-serif' font-size="6.8" letter-spacing="0" fill="#505050">19</text>
<text x="426.83" y="175.04" text-anchor="middle" font-family='"Liberation Sans", sans-serif' font-size="6.8" letter-spacing="0" fill="#505050">6</text>
<text x="427.23" y="271.00" text-anchor="middle" font-family='"Liberation Sans", sans-serif' font-weight="bold" font-size="7.4" letter-spacing="-0.3" fill="#1E1E1E" stroke="#1E1E1E" stroke-width="0.2">12m</text>
<line x1="250.1" x2="442.9" y1="241.24" y2="241.24" stroke="#FFFFFF" stroke-opacity="0.13" stroke-width="1"/>
<line x1="250.1" x2="442.9" y1="223.28" y2="223.28" stroke="#FFFFFF" stroke-opacity="0.13" stroke-width="1"/>
<line x1="250.1" x2="442.9" y1="205.32" y2="205.32" stroke="#FFFFFF" stroke-opacity="0.13" stroke-width="1"/>
<line x1="250.1" x2="442.9" y1="187.36" y2="187.36" stroke="#FFFFFF" stroke-opacity="0.13" stroke-width="1"/>
<line x1="250.1" x2="442.9" y1="169.40" y2="169.40" stroke="#FFFFFF" stroke-opacity="0.13" stroke-width="1"/>
<line x1="250.1" x2="442.9" y1="259.20" y2="259.20" stroke="#BFBFBF" stroke-width="1"/>
<g transform="translate(340.65,152.90) scale(0.95,1)"><text x="0" y="0" text-anchor="middle" font-family='"Liberation Sans", sans-serif' font-weight="bold" font-size="8.3" textLength="19.79" lengthAdjust="spacing" fill="#1A1A1A" stroke="#1A1A1A" stroke-width="0.32">PCV</text></g>
<g transform="translate(341.10,165.40) scale(0.9,1)"><text x="0" y="0" text-anchor="middle" font-family='"Liberation Sans", sans-serif' font-size="8.8" textLength="28.22" lengthAdjust="spacing" fill="#262626" stroke="#262626" stroke-width="0.35">n = 37</text></g>
<line x1="474.8" x2="668.0" y1="241.24" y2="241.24" stroke="#D9D9D9" stroke-width="1"/>
<line x1="474.8" x2="668.0" y1="223.28" y2="223.28" stroke="#D9D9D9" stroke-width="1"/>
<line x1="474.8" x2="668.0" y1="205.32" y2="205.32" stroke="#D9D9D9" stroke-width="1"/>
<line x1="474.8" x2="668.0" y1="187.36" y2="187.36" stroke="#D9D9D9" stroke-width="1"/>
<line x1="474.8" x2="668.0" y1="169.40" y2="169.40" stroke="#D9D9D9" stroke-width="1"/>
<g transform="translate(468.70,261.70) scale(0.9,1)"><text x="0" y="0" text-anchor="end" font-family='"Liberation Sans", sans-serif' font-size="7" letter-spacing="-0.1" fill="#6A6A6A">0%</text></g>
<g transform="translate(468.70,243.74) scale(0.9,1)"><text x="0" y="0" text-anchor="end" font-family='"Liberation Sans", sans-serif' font-size="7" letter-spacing="-0.1" fill="#6A6A6A">20%</text></g>
<g transform="translate(468.70,225.78) scale(0.9,1)"><text x="0" y="0" text-anchor="end" font-family='"Liberation Sans", sans-serif' font-size="7" letter-spacing="-0.1" fill="#6A6A6A">40%</text></g>
<g transform="translate(468.70,207.82) scale(0.9,1)"><text x="0" y="0" text-anchor="end" font-family='"Liberation Sans", sans-serif' font-size="7" letter-spacing="-0.1" fill="#6A6A6A">60%</text></g>
<g transform="translate(468.70,189.86) scale(0.9,1)"><text x="0" y="0" text-anchor="end" font-family='"Liberation Sans", sans-serif' font-size="7" letter-spacing="-0.1" fill="#6A6A6A">80%</text></g>
<g transform="translate(468.70,171.90) scale(0.9,1)"><text x="0" y="0" text-anchor="end" font-family='"Liberation Sans", sans-serif' font-size="7" letter-spacing="-0.1" fill="#6A6A6A">100%</text></g>
<rect x="484.96" y="243.54" width="11.88" height="15.16" fill="url(#gb)" stroke="#6286D4" stroke-width="1"/>
<rect x="484.96" y="169.90" width="11.88" height="72.64" fill="url(#go)" stroke="#EF925C" stroke-width="1"/>
<text x="490.90" y="254.07" text-anchor="middle" font-family='"Liberation Sans", sans-serif' font-size="6.8" letter-spacing="0" fill="#505050">18</text>
<text x="490.90" y="209.17" text-anchor="middle" font-family='"Liberation Sans", sans-serif' font-size="6.8" letter-spacing="0" fill="#505050">82</text>
<text x="491.30" y="271.00" text-anchor="middle" font-family='"Liberation Sans", sans-serif' font-weight="bold" font-size="7.4" letter-spacing="-0.3" fill="#1E1E1E" stroke="#1E1E1E" stroke-width="0.2">1m</text>
<rect x="517.16" y="202.23" width="11.88" height="56.47" fill="url(#gb)" stroke="#6286D4" stroke-width="1"/>
<rect x="517.16" y="194.15" width="11.88" height="7.08" fill="url(#go)" stroke="#EF925C" stroke-width="1"/>
<rect x="517.16" y="186.06" width="11.88" height="7.08" fill="url(#gg)" stroke="#B4B4B4" stroke-width="1"/>
<rect x="517.16" y="169.90" width="11.88" height="15.16" fill="url(#gy)" stroke="#F6C830" stroke-width="1"/>
<text x="523.10" y="233.41" text-anchor="middle" font-family='"Liberation Sans", sans-serif' font-size="6.8" letter-spacing="0" fill="#505050">64</text>
<text x="523.10" y="200.64" text-anchor="middle" font-family='"Liberation Sans", sans-serif' font-size="6.8" letter-spacing="0" fill="#505050">9</text>
<text x="523.10" y="192.56" text-anchor="middle" font-family='"Liberation Sans", sans-serif' font-size="6.8" letter-spacing="0" fill="#505050">9</text>
<text x="523.10" y="180.43" text-anchor="middle" font-family='"Liberation Sans", sans-serif' font-size="6.8" letter-spacing="0" fill="#505050">18</text>
<text x="523.50" y="271.00" text-anchor="middle" font-family='"Liberation Sans", sans-serif' font-weight="bold" font-size="7.4" letter-spacing="-0.3" fill="#1E1E1E" stroke="#1E1E1E" stroke-width="0.2">2m</text>
<rect x="549.36" y="202.23" width="11.88" height="56.47" fill="url(#gb)" stroke="#6286D4" stroke-width="1"/>
<rect x="549.36" y="177.98" width="11.88" height="23.25" fill="url(#go)" stroke="#EF925C" stroke-width="1"/>
<rect x="549.36" y="169.90" width="11.88" height="7.08" fill="url(#gy)" stroke="#F6C830" stroke-width="1"/>
<text x="555.30" y="233.41" text-anchor="middle" font-family='"Liberation Sans", sans-serif' font-size="6.8" letter-spacing="0" fill="#505050">64</text>
<text x="555.30" y="192.55" text-anchor="middle" font-family='"Liberation Sans", sans-serif' font-size="6.8" letter-spacing="0" fill="#505050">27</text>
<text x="555.30" y="176.39" text-anchor="middle" font-family='"Liberation Sans", sans-serif' font-size="6.8" letter-spacing="0" fill="#505050">9</text>
<text x="555.70" y="271.00" text-anchor="middle" font-family='"Liberation Sans", sans-serif' font-weight="bold" font-size="7.4" letter-spacing="-0.3" fill="#1E1E1E" stroke="#1E1E1E" stroke-width="0.2">3m</text>
<rect x="581.56" y="196.84" width="11.88" height="61.86" fill="url(#gb)" stroke="#6286D4" stroke-width="1"/>
<rect x="581.56" y="178.88" width="11.88" height="16.96" fill="url(#go)" stroke="#EF925C" stroke-width="1"/>
<rect x="581.56" y="169.90" width="11.88" height="7.98" fill="url(#gy)" stroke="#F6C830" stroke-width="1"/>
<text x="587.50" y="230.72" text-anchor="middle" font-family='"Liberation Sans", sans-serif' font-size="6.8" letter-spacing="0" fill="#505050">70</text>
<text x="587.50" y="190.31" text-anchor="middle" font-family='"Liberation Sans", sans-serif' font-size="6.8" letter-spacing="0" fill="#505050">20</text>
<text x="587.50" y="176.84" text-anchor="middle" font-family='"Liberation Sans", sans-serif' font-size="6.8" letter-spacing="0" fill="#505050">10</text>
<text x="587.90" y="271.00" text-anchor="middle" font-family='"Liberation Sans", sans-serif' font-weight="bold" font-size="7.4" letter-spacing="-0.3" fill="#1E1E1E" stroke="#1E1E1E" stroke-width="0.2">6m</text>
<rect x="613.76" y="221.09" width="11.88" height="37.61" fill="url(#gb)" stroke="#6286D4" stroke-width="1"/>
<rect x="613.76" y="208.51" width="11.88" height="11.57" fill="url(#go)" stroke="#EF925C" stroke-width="1"/>
<rect x="613.76" y="195.94" width="11.88" height="11.57" fill="url(#gg)" stroke="#B4B4B4" stroke-width="1"/>
<rect x="613.76" y="169.90" width="11.88" height="25.04" fill="url(#gy)" stroke="#F6C830" stroke-width="1"/>
<text x="619.70" y="242.84" text-anchor="middle" font-family='"Liberation Sans", sans-serif' font-size="6.8" letter-spacing="0" fill="#505050">43</text>
<text x="619.70" y="217.25" text-anchor="middle" font-family='"Liberation Sans", sans-serif' font-size="6.8" letter-spacing="0" fill="#505050">14</text>
<text x="619.70" y="204.68" text-anchor="middle" font-family='"Liberation Sans", sans-serif' font-size="6.8" letter-spacing="0" fill="#505050">14</text>
<text x="619.70" y="185.37" text-anchor="middle" font-family='"Liberation Sans", sans-serif' font-size="6.8" letter-spacing="0" fill="#505050">29</text>
<text x="620.10" y="271.00" text-anchor="middle" font-family='"Liberation Sans", sans-serif' font-weight="bold" font-size="7.4" letter-spacing="-0.3" fill="#1E1E1E" stroke="#1E1E1E" stroke-width="0.2">9m</text>
<rect x="645.96" y="221.09" width="11.88" height="37.61" fill="url(#gb)" stroke="#6286D4" stroke-width="1"/>
<rect x="645.96" y="195.04" width="11.88" height="25.04" fill="url(#go)" stroke="#EF925C" stroke-width="1"/>
<rect x="645.96" y="182.47" width="11.88" height="11.57" fill="url(#gg)" stroke="#B4B4B4" stroke-width="1"/>
<rect x="645.96" y="169.90" width="11.88" height="11.57" fill="url(#gy)" stroke="#F6C830" stroke-width="1"/>
<text x="651.90" y="242.84" text-anchor="middle" font-family='"Liberation Sans", sans-serif' font-size="6.8" letter-spacing="0" fill="#505050">43</text>
<text x="651.90" y="210.51" text-anchor="middle" font-family='"Liberation Sans", sans-serif' font-size="6.8" letter-spacing="0" fill="#505050">29</text>
<text x="651.90" y="191.21" text-anchor="middle" font-family='"Liberation Sans", sans-serif' font-size="6.8" letter-spacing="0" fill="#505050">14</text>
<text x="651.90" y="178.64" text-anchor="middle" font-family='"Liberation Sans", sans-serif' font-size="6.8" letter-spacing="0" fill="#505050">14</text>
<text x="652.30" y="271.00" text-anchor="middle" font-family='"Liberation Sans", sans-serif' font-weight="bold" font-size="7.4" letter-spacing="-0.3" fill="#1E1E1E" stroke="#1E1E1E" stroke-width="0.2">12m</text>
<line x1="474.8" x2="668.0" y1="241.24" y2="241.24" stroke="#FFFFFF" stroke-opacity="0.13" stroke-width="1"/>
<line x1="474.8" x2="668.0" y1="223.28" y2="223.28" stroke="#FFFFFF" stroke-opacity="0.13" stroke-width="1"/>
<line x1="474.8" x2="668.0" y1="205.32" y2="205.32" stroke="#FFFFFF" stroke-opacity="0.13" stroke-width="1"/>
<line x1="474.8" x2="668.0" y1="187.36" y2="187.36" stroke="#FFFFFF" stroke-opacity="0.13" stroke-width="1"/>
<line x1="474.8" x2="668.0" y1="169.40" y2="169.40" stroke="#FFFFFF" stroke-opacity="0.13" stroke-width="1"/>
<line x1="474.8" x2="668.0" y1="259.20" y2="259.20" stroke="#BFBFBF" stroke-width="1"/>
<g transform="translate(565.00,152.90) scale(0.95,1)"><text x="0" y="0" text-anchor="middle" font-family='"Liberation Sans", sans-serif' font-weight="bold" font-size="8.3" textLength="20.11" lengthAdjust="spacing" fill="#1A1A1A" stroke="#1A1A1A" stroke-width="0.32">RAP</text></g>
<g transform="translate(565.55,165.40) scale(0.9,1)"><text x="0" y="0" text-anchor="middle" font-family='"Liberation Sans", sans-serif' font-size="8.8" textLength="27.44" lengthAdjust="spacing" fill="#262626" stroke="#262626" stroke-width="0.35">n = 11</text></g>
<text x="1.2" y="9.9" font-family='"Liberation Sans", sans-serif' font-size="10.8" fill="#3A3A3A">(<tspan font-weight="bold" font-size="11.2" fill="#111">a</tspan>)</text>
<text x="229.8" y="9.9" font-family='"Liberation Sans", sans-serif' font-size="10.8" fill="#3A3A3A">(<tspan font-weight="bold" font-size="11.2" fill="#111">b</tspan>)</text>
<text x="1.8" y="153.9" font-family='"Liberation Sans", sans-serif' font-size="10.8" fill="#3A3A3A">(<tspan font-weight="bold" font-size="11.2" fill="#111">c</tspan>)</text>
<rect x="172" y="291.2" width="5.3" height="5.3" fill="#4472C4"/>
<text x="179.8" y="297.2" font-family='"Liberation Sans", sans-serif' font-size="9.45" fill="#595959">No fluid</text>
<rect x="227.3" y="291.2" width="5.3" height="5.3" fill="#ED7D31"/>
<text x="234.8" y="297.2" font-family='"Liberation Sans", sans-serif' font-size="9.45" fill="#595959">Reduced but persistent fluid</text>
<rect x="367.4" y="291.2" width="5.3" height="5.3" fill="#A5A5A5"/>
<text x="374.0" y="297.2" font-family='"Liberation Sans", sans-serif' font-size="9.45" fill="#595959">Stable fluid</text>
<rect x="436.4" y="291.2" width="5.3" height="5.3" fill="#FFC000"/>
<text x="444.0" y="297.2" font-family='"Liberation Sans", sans-serif' font-size="9.45" fill="#595959">Increased fluid</text>
</svg>
</body></html>
